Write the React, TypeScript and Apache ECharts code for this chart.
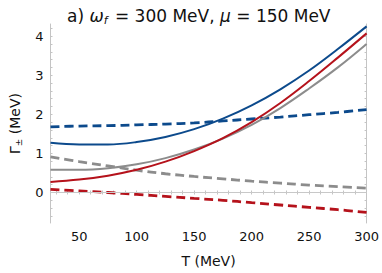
import React, { useEffect, useRef } from "react";
import * as echarts from "echarts";

const temps = [25, 50, 75, 100, 125, 150, 175, 200, 225, 250, 275, 300];
const blueSolid = [1.27, 1.23, 1.23, 1.29, 1.42, 1.62, 1.89, 2.23, 2.64, 3.12, 3.67, 4.25];
const blueDashed = [1.68, 1.7, 1.71, 1.73, 1.75, 1.78, 1.83, 1.88, 1.93, 1.99, 2.05, 2.12];
const redSolid = [0.27, 0.33, 0.43, 0.58, 0.79, 1.06, 1.39, 1.8, 2.29, 2.85, 3.45, 4.07];
const redDashed = [0.08, 0.04, 0.0, -0.05, -0.1, -0.15, -0.2, -0.26, -0.32, -0.38, -0.44, -0.51];
const graySolid = [0.58, 0.58, 0.62, 0.72, 0.88, 1.1, 1.38, 1.73, 2.16, 2.66, 3.2, 3.8];
const grayDashed = [0.91, 0.79, 0.68, 0.57, 0.48, 0.41, 0.35, 0.29, 0.24, 0.19, 0.15, 0.11];

const xLabels = [50, 100, 150, 200, 250, 300];
const xTicks = [30, 40, 50, 60, 70, 80, 90, 100, 110, 120, 130, 140, 150, 160, 170, 180, 190, 200, 210, 220, 230, 240, 250, 260, 270, 280, 290, 300];
const yLabels = [0, 1, 2, 3, 4];
const yTicks = [-0.6, -0.4, -0.2, 0, 0.2, 0.4, 0.6, 0.8, 1, 1.2, 1.4, 1.6, 1.8, 2, 2.2, 2.4, 2.6, 2.8, 3, 3.2, 3.4, 3.6, 3.8, 4, 4.2];

const BLUE = "#0c4a8c";
const RED = "#b5121b";
const GRAY = "#8c8c8c";
const FRAME = "#c4c4c4";
const FONT = "DejaVu Sans";

const pairs = (ys: number[]) => temps.map((t, i) => [t, ys[i]]);

export default function App() {
  const ref = useRef<HTMLDivElement>(null);
  useEffect(() => {
    document.body.style.margin = "0";
    if (!ref.current) return;
    const chart = echarts.init(ref.current, null, { renderer: "svg" });
    const line = (data: number[], color: string, dashed: boolean, z: number) => ({
      type: "line",
      data: pairs(data),
      smooth: 0.4,
      symbol: "none",
      z,
      lineStyle: dashed
        ? { color, width: 2.8, type: [9, 5] }
        : { color, width: 2 },
    });
    const xBase = {
      type: "value",
      min: 25,
      max: 300,
      axisLine: { show: true, lineStyle: { color: FRAME, width: 1 } },
      splitLine: { show: false },
      axisTick: { show: true, inside: true, length: 2, customValues: xTicks, lineStyle: { color: FRAME } },
    };
    const yBase = {
      type: "value",
      min: -0.78,
      max: 4.31,
      axisLine: { show: true, lineStyle: { color: FRAME, width: 1 } },
      splitLine: { show: false },
      axisTick: { show: true, inside: true, length: 2, customValues: yTicks, lineStyle: { color: FRAME } },
    };
    chart.setOption({
      animation: false,
      title: {
        text: "{n|a) }{i|ω}{sub|f}{n| = 300 MeV, }{i|μ}{n| = 150 MeV}",
        left: 62,
        top: 1,
        textStyle: {
          fontWeight: "normal",
          rich: {
            n: { fontFamily: FONT, fontSize: 17, fontWeight: "normal", color: "#111" },
            i: { fontFamily: FONT, fontSize: 17, fontWeight: "normal", fontStyle: "italic", color: "#111" },
            sub: { fontFamily: FONT, fontSize: 11, fontWeight: "normal", fontStyle: "italic", color: "#111", padding: [9, 2, 0, 0] },
          },
        },
      },
      grid: { left: 32, right: 14, top: 24, bottom: 39 },
      xAxis: [
        {
          ...xBase,
          position: "bottom",
          name: "T (MeV)",
          nameLocation: "middle",
          nameGap: 31,
          nameTextStyle: { fontFamily: FONT, fontSize: 14, color: "#111" },
          axisLabel: { show: true, customValues: xLabels, fontFamily: FONT, fontSize: 13, color: "#111", margin: 7 },
        },
        { ...xBase, position: "top", axisLabel: { show: false } },
      ],
      yAxis: [
        {
          ...yBase,
          position: "left",
          name: "{g|Γ}{s|±}{g| (MeV)}",
          nameLocation: "middle",
          nameGap: 27,
          nameTextStyle: {
            rich: {
              g: { fontFamily: FONT, fontSize: 14, color: "#111" },
              s: { fontFamily: FONT, fontSize: 9, color: "#111", padding: [8, 0, 0, 0] },
            },
          },
          axisLabel: { show: true, customValues: yLabels, fontFamily: FONT, fontSize: 13, color: "#111", margin: 7 },
        },
        { ...yBase, position: "right", axisLabel: { show: false } },
      ],
      series: [
        {
          type: "line",
          data: [],
          markLine: {
            silent: true,
            symbol: "none",
            label: { show: false },
            lineStyle: { color: "#c8c8c8", width: 1, type: "solid" },
            data: [{ yAxis: 0 }],
          },
        },
        line(grayDashed, GRAY, true, 3),
        line(graySolid, GRAY, false, 4),
        line(redDashed, RED, true, 3),
        line(redSolid, RED, false, 5),
        line(blueDashed, BLUE, true, 3),
        line(blueSolid, BLUE, false, 6),
      ],
    });
    return () => chart.dispose();
  }, []);
  return <div ref={ref} style={{ width: 382, height: 273 }} />;
}
